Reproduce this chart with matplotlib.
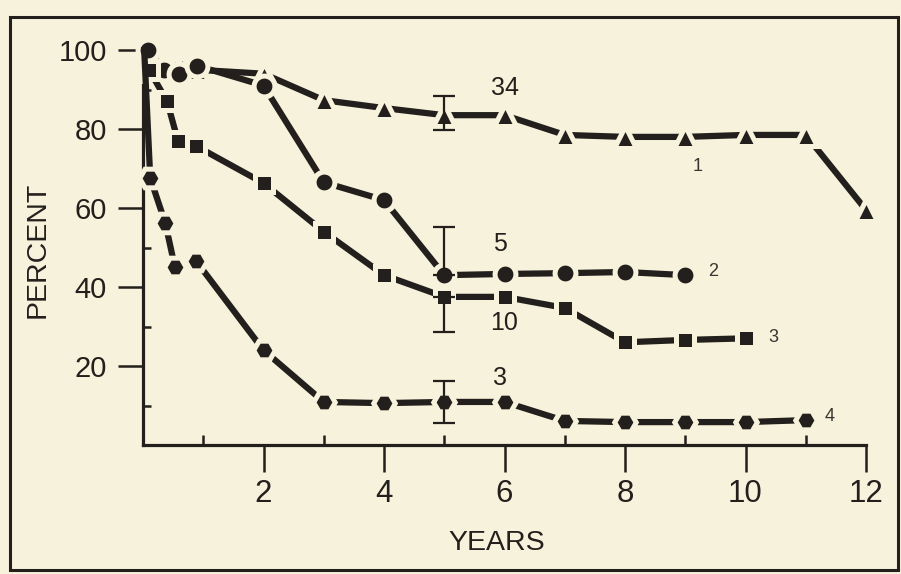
import matplotlib.pyplot as plt
from matplotlib.patches import Rectangle

# percent surviving vs years, four groups
years_tri = [0.1, 0.4, 0.65, 0.9, 2, 3, 4, 5, 6, 7, 8, 9, 10, 11, 12]
pct_tri = [95, 96, 96, 95, 94, 87.3, 85.3, 83.5, 83.5, 78.5, 78, 78, 78.5, 78.5, 59.5]

years_circ = [0.08, 0.35, 0.6, 0.9, 2, 3, 4, 5, 6, 7, 8, 9]
pct_circ = [100, 95, 94, 96, 91, 66.5, 62, 43, 43.3, 43.5, 43.8, 43]

years_sq = [0.1, 0.4, 0.58, 0.88, 2, 3, 4, 5, 6, 7, 8, 9, 10]
pct_sq = [95, 87, 77, 75.7, 66.3, 54, 43, 37.5, 37.5, 34.7, 26, 26.6, 27]

years_hex = [0.02, 0.12, 0.37, 0.53, 0.88, 2, 3, 4, 5, 6, 7, 8, 9, 10, 11]
pct_hex = [100, 67.6, 56.2, 45, 46.6, 24, 10.9, 10.6, 10.9, 10.9, 6.1, 5.8, 5.8, 5.8, 6.3]

# error bars at 5 years, one per group
err_year = 5
err_mid = [83.5, 43, 37.5, 10.9]
err_low = [3.8, 0, 8.9, 5.3]
err_high = [4.9, 12.2, 0, 5.3]

n_labels = ["34", "5", "10", "3"]
group_labels = ["1", "2", "3", "4"]

BG = "#f7f2dc"
INK = "#231f1c"

plt.rcParams["font.family"] = ["Liberation Sans", "DejaVu Sans"]

fig = plt.figure(figsize=(9.01, 5.74), dpi=100, facecolor=BG)
ax = fig.add_axes([143 / 901, 129 / 574, 723 / 901, 395 / 574])
ax.set_facecolor(BG)

style = dict(color=INK, lw=4.5, mfc=INK, mec=BG, mew=3.6, clip_on=False, zorder=3)
ax.plot(years_tri, pct_tri, marker="^", ms=16, **style)
ax.plot(years_circ, pct_circ, marker="o", ms=15, **style)
ax.plot(years_sq, pct_sq, marker="s", ms=13.5, **style)
ax.plot(years_hex, pct_hex, marker="H", ms=15.5, markevery=list(range(1, len(years_hex))), **style)

ax.errorbar([err_year] * 4, err_mid, yerr=[err_low, err_high], fmt="none",
            ecolor=INK, elinewidth=1.6, capsize=8, capthick=1.6, zorder=4)

for txt, (x, y) in zip(n_labels, [(6.0, 90.4), (5.93, 51), (6.0, 30.9), (5.93, 17)]):
    ax.text(x, y, txt, fontsize=18, color=INK, ha="center", va="center")
for txt, (x, y) in zip(group_labels, [(9.2, 70.4), (9.46, 43.8), (10.46, 27.1), (11.4, 7.1)]):
    ax.text(x, y, txt, fontsize=13, color="#3a3530", ha="center", va="center")

ax.set_xlim(0, 12)
ax.set_ylim(0, 100)
for side in ["top", "right"]:
    ax.spines[side].set_visible(False)
for side in ["left", "bottom"]:
    ax.spines[side].set_color(INK)
    ax.spines[side].set_linewidth(2.3)

ax.set_xticks(range(2, 13, 2))
ax.set_xticks(range(1, 13), minor=True)
ax.set_yticks(range(20, 101, 20))
ax.set_yticks(range(10, 101, 10), minor=True)
ax.tick_params(axis="x", which="major", direction="out", length=19.5, width=1.8,
               color=INK, labelsize=22.5, labelcolor=INK, pad=5)
ax.tick_params(axis="x", which="minor", direction="in", length=7, width=1.8, color=INK)
ax.tick_params(axis="y", which="major", direction="out", length=18, width=1.8,
               color=INK, labelsize=21, labelcolor=INK, pad=8)
ax.tick_params(axis="y", which="minor", direction="in", length=6, width=1.8, color=INK)

fig.text(497 / 901, 1 - 543 / 574, "YEARS", fontsize=20.5, color=INK, ha="center", va="center")
fig.text(38 / 901, 1 - 250 / 574, "PERCENT", fontsize=20.5, color=INK, ha="center",
         va="center", rotation=90)

fig.patches.append(Rectangle((10 / 901, 4 / 574), 888 / 901, 553 / 574, transform=fig.transFigure,
                             fill=False, edgecolor=INK, lw=2.2))

fig.savefig("out.png", dpi=100, facecolor=BG)
